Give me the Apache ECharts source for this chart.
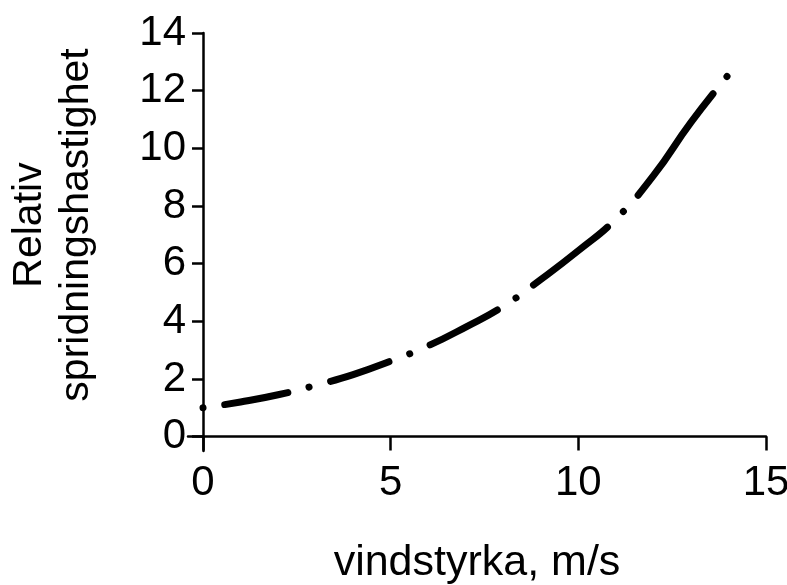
<!DOCTYPE html>
<html>
<head>
<meta charset="utf-8">
<script src="https://cdn.jsdelivr.net/npm/echarts@6/dist/echarts.min.js"></script>
<style>html,body{margin:0;padding:0;background:#fff;}#c{width:787px;height:585px;}</style>
</head>
<body>
<div id="c"></div>
<script>
var windSpeed = [0, 1, 2, 3, 4, 5, 6, 7, 8, 9, 10, 11, 12, 13, 14];
var relSpeed = [1.0, 1.2, 1.45, 1.78, 2.15, 2.62, 3.15, 3.8, 4.52, 5.45, 6.45, 7.55, 9.05, 10.9, 12.55];
var xTicks = [0, 5, 10, 15];
var yTicks = [0, 2, 4, 6, 8, 10, 12, 14];
var xTitle = 'vindstyrka, m/s';
var yTitle = 'Relativ\nspridningshastighet';

var chart = echarts.init(document.getElementById('c'), null, {renderer: 'canvas'});
var font = 'Liberation Sans, Arial, sans-serif';
var lineData = windSpeed.map(function (x, i) { return [x, relSpeed[i]]; });
// dash-dot pattern: dot, gap, dash, gap, ...
var dashPattern = [0.1, 22, 64, 22, 0.1, 22, 62, 22, 0.1, 22, 76, 22, 0.1, 22, 94, 22, 0.1, 22, 126, 22, 0.1, 400];
chart.setOption({
  animation: false,
  backgroundColor: '#fff',
  grid: {left: 188, right: 21, top: 33, bottom: 134, containLabel: false, outerBoundsMode: 'none'},
  xAxis: {
    type: 'value', min: -0.4, max: 15,
    name: xTitle, nameLocation: 'middle', nameGap: 91,
    nameTextStyle: {fontFamily: font, fontSize: 43, color: '#000'},
    axisLine: {onZero: true, lineStyle: {color: '#000', width: 2.5}},
    axisTick: {show: true, inside: false, length: 14, customValues: xTicks, lineStyle: {color: '#000', width: 2.5}},
    axisLabel: {customValues: xTicks, margin: 11, fontFamily: font, fontSize: 42, color: '#000'},
    splitLine: {show: false}
  },
  yAxis: {
    type: 'value', min: -0.5, max: 14,
    name: yTitle, nameLocation: 'middle', nameGap: 88, nameRotate: 90,
    nameTextStyle: {fontFamily: font, fontSize: 41, color: '#000', lineHeight: 47, padding: [0, 0, 0, 34]},
    axisLine: {onZero: true, lineStyle: {color: '#000', width: 2.5}},
    axisTick: {show: true, inside: false, length: 11, customValues: yTicks, lineStyle: {color: '#000', width: 2.5}},
    axisLabel: {customValues: yTicks, margin: 2, fontFamily: font, fontSize: 42, color: '#000'},
    splitLine: {show: false}
  },
  series: [{
    type: 'line',
    data: lineData,
    smooth: 0.5,
    showSymbol: false,
    clip: false,
    lineStyle: {color: '#000', width: 7, type: dashPattern, cap: 'round', join: 'round'}
  }]
});
</script>
</body>
</html>
